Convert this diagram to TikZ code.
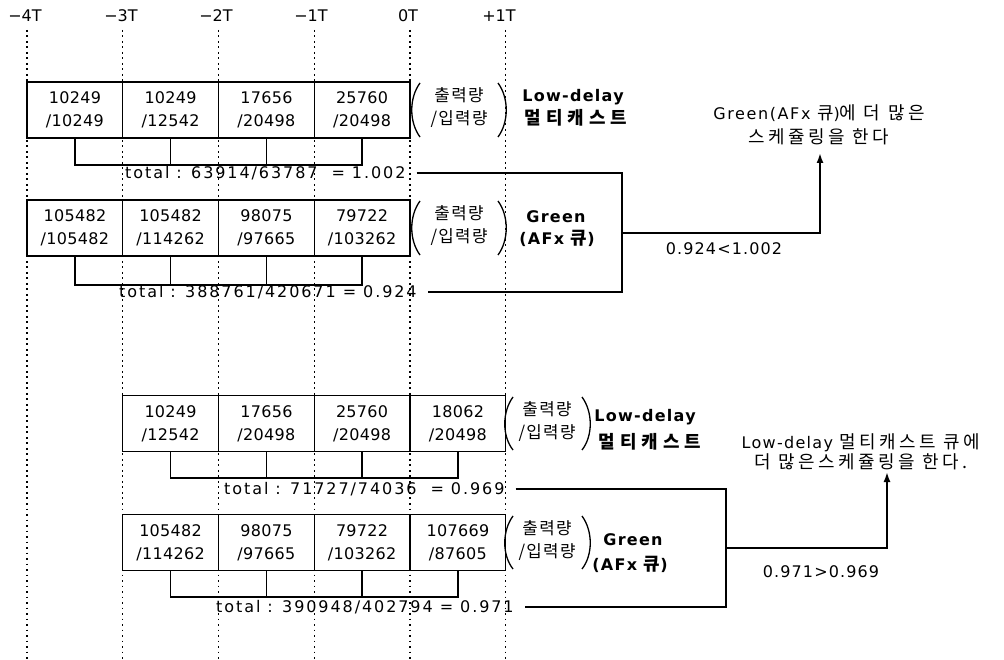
\documentclass[tikz,border=0pt]{standalone}
\usepackage{fontspec}
\setmainfont{DejaVu Sans}
\newfontfamily\kr{Noto Sans CJK KR}[Scale=1.05,LetterSpace=8]
\newfontfamily\krw{Noto Sans CJK KR}[Scale=1.12,LetterSpace=20]
\newfontfamily\krb{Noto Sans CJK KR}[Scale=1.12,LetterSpace=28]
\usetikzlibrary{arrows.meta}
\begin{document}
\begin{tikzpicture}[x=1pt,y=-1pt,
  every node/.style={font=\fontsize{16}{19}\selectfont,inner sep=1pt},
  axislbl/.style={font=\fontsize{16}{19}\selectfont},
  gridline/.style={line width=1.4pt,dash pattern=on 1.7pt off 3.8pt},
  cell/.style={draw,line width=1.2pt,minimum width=95.75pt,minimum height=56pt,inner sep=0pt,align=center,font=\fontsize{16}{23}\selectfont\addfontfeature{LetterSpace=2}},
  brk/.style={line width=1.5pt},
  conn/.style={line width=1.8pt},
  paren/.style={line width=1.3pt},
  tot/.style={anchor=west,font=\fontsize{16}{19}\selectfont\addfontfeature{LetterSpace=12}},
  ratio/.style={font=\fontsize{16}{19}\selectfont\addfontfeature{LetterSpace=7}},
  krlbl/.style={align=center,font=\fontsize{16}{23}\selectfont\kr},
  nmlbl/.style={font=\fontsize{16}{19}\selectfont\bfseries\addfontfeature{LetterSpace=8}},
  msg/.style={align=center,font=\fontsize{16}{24}\selectfont\addfontfeature{LetterSpace=10}}
]
\fill[white] (0,0) rectangle (1004,660);
\useasboundingbox (0,0) rectangle (1004,660);

% axis labels
\node[axislbl] (l4) at (25,16) {−4T};
\node[axislbl] (l3) at (121,16) {−3T};
\node[axislbl] (l2) at (216,16) {−2T};
\node[axislbl] (l1) at (311,16) {−1T};
\node[axislbl] (l0) at (408,16) {0T};
\node[axislbl] (lp) at (499,16) {+1T};

% dotted time lines
\foreach \gx in {27,122.75,218.5,314.25,410,505.75}
  \draw[gridline] (\gx,30) -- (\gx,660);

% block 1 (low-delay)
\node[cell] (a1) at (74.9,110) {10249\\/10249};
\node[cell] (a2) at (170.6,110) {10249\\/12542};
\node[cell] (a3) at (266.4,110) {17656\\/20498};
\node[cell] (a4) at (362.1,110) {25760\\/20498};
\draw[brk] (a1.south) |- (a4.south |- 0,165) -- (a4.south);
\draw[brk] (a2.south) -- (a2.south |- 0,165);
\draw[brk] (a3.south) -- (a3.south |- 0,165);
\node[tot] (t1) at (124,173) {total : 63914/63787 \ = 1.002};

% block 2 (green)
\node[cell] (b1) at (74.9,228) {105482\\/105482};
\node[cell] (b2) at (170.6,228) {105482\\/114262};
\node[cell] (b3) at (266.4,228) {98075\\/97665};
\node[cell] (b4) at (362.1,228) {79722\\/103262};
\draw[brk] (b1.south) |- (b4.south |- 0,285) -- (b4.south);
\draw[brk] (b2.south) -- (b2.south |- 0,285);
\draw[brk] (b3.south) -- (b3.south |- 0,285);
\node[tot] (t2) at (118,292) {total : 388761/420671 = 0.924};

% labels block 1/2
\node[krlbl] (p1) at (459,108) {출력량\\/입력량};
\draw[paren] (420,83) .. controls (409,98) and (409,122) .. (420,137);
\draw[paren] (498,83) .. controls (509,98) and (509,122) .. (498,137);
\node[nmlbl] (n1a) at (573,97) {Low-delay};
\node[nmlbl] (n1b) at (576,118) {\krb\bfseries 멀티캐스트};
\node[krlbl] (p2) at (459,226) {출력량\\/입력량};
\draw[paren] (420,201) .. controls (409,216) and (409,240) .. (420,255);
\draw[paren] (498,201) .. controls (509,216) and (509,240) .. (498,255);
\node[nmlbl] (n2a) at (556,217) {Green};
\node[nmlbl] (n2b) at (557,238) {(AFx {\krb\bfseries 큐})};

% decision 1
\coordinate (e1) at (622,233);
\coordinate (tip1) at (820,153);
\draw[conn] ([xshift=10pt]t1.east) -| (e1) |- ([xshift=10pt]t2.east);
\draw[conn,-{Latex[length=10pt,width=7pt]}] (e1) -| (tip1);
\node[ratio] (r1) at (724,249) {0.924<1.002};
\node[msg] (m1) at (819,125) {Green(AFx {\krw 큐})\krw 에 더 많은\\\krw 스케쥴링을 한다};

% block 3 (low-delay)
\node[cell] (c1) at (170.6,423.5) {10249\\/12542};
\node[cell] (c2) at (266.4,423.5) {17656\\/20498};
\node[cell] (c3) at (362.1,423.5) {25760\\/20498};
\node[cell] (c4) at (457.9,423.5) {18062\\/20498};
\draw[brk] (c1.south) |- (c4.south |- 0,478) -- (c4.south);
\draw[brk] (c2.south) -- (c2.south |- 0,478);
\draw[brk] (c3.south) -- (c3.south |- 0,478);
\node[tot] (t3) at (223,489) {total : 71727/74036 \ = 0.969};

% block 4 (green)
\node[cell] (d1) at (170.6,542.5) {105482\\/114262};
\node[cell] (d2) at (266.4,542.5) {98075\\/97665};
\node[cell] (d3) at (362.1,542.5) {79722\\/103262};
\node[cell] (d4) at (457.9,542.5) {107669\\/87605};
\draw[brk] (d1.south) |- (d4.south |- 0,597) -- (d4.south);
\draw[brk] (d2.south) -- (d2.south |- 0,597);
\draw[brk] (d3.south) -- (d3.south |- 0,597);
\node[tot] (t4) at (215,607) {total : 390948/402794 = 0.971};

% labels block 3/4
\node[krlbl] (p3) at (547,422) {출력량\\/입력량};
\draw[paren] (513,397) .. controls (502,412) and (502,436) .. (513,450);
\draw[paren] (582,397) .. controls (593,412) and (593,436) .. (582,450);
\node[nmlbl] (n3a) at (645,417) {Low-delay};
\node[nmlbl] (n3b) at (650,442) {\krb\bfseries 멀티캐스트};
\node[krlbl] (p4) at (547,541) {출력량\\/입력량};
\draw[paren] (513,516) .. controls (502,531) and (502,555) .. (513,569);
\draw[paren] (582,516) .. controls (593,531) and (593,555) .. (582,569);
\node[nmlbl] (n4a) at (633,540) {Green};
\node[nmlbl] (n4b) at (630,564) {(AFx {\krb\bfseries 큐})};

% decision 2
\coordinate (e2) at (726,548);
\coordinate (tip2) at (887,472);
\draw[conn] ([xshift=10pt]t3.east) -| (e2) |- ([xshift=10pt]t4.east);
\draw[conn,-{Latex[length=10pt,width=7pt]}] (e2) -| (tip2);
\node[ratio] (r2) at (821,572) {0.971>0.969};
\node[msg,font=\fontsize{16}{20}\selectfont\addfontfeature{LetterSpace=8}] (m2) at (861,452) {Low-delay {\krw 멀티캐스트 큐에}\\\krw 더 많은스케쥴링을 한다.};
\end{tikzpicture}
\end{document}
